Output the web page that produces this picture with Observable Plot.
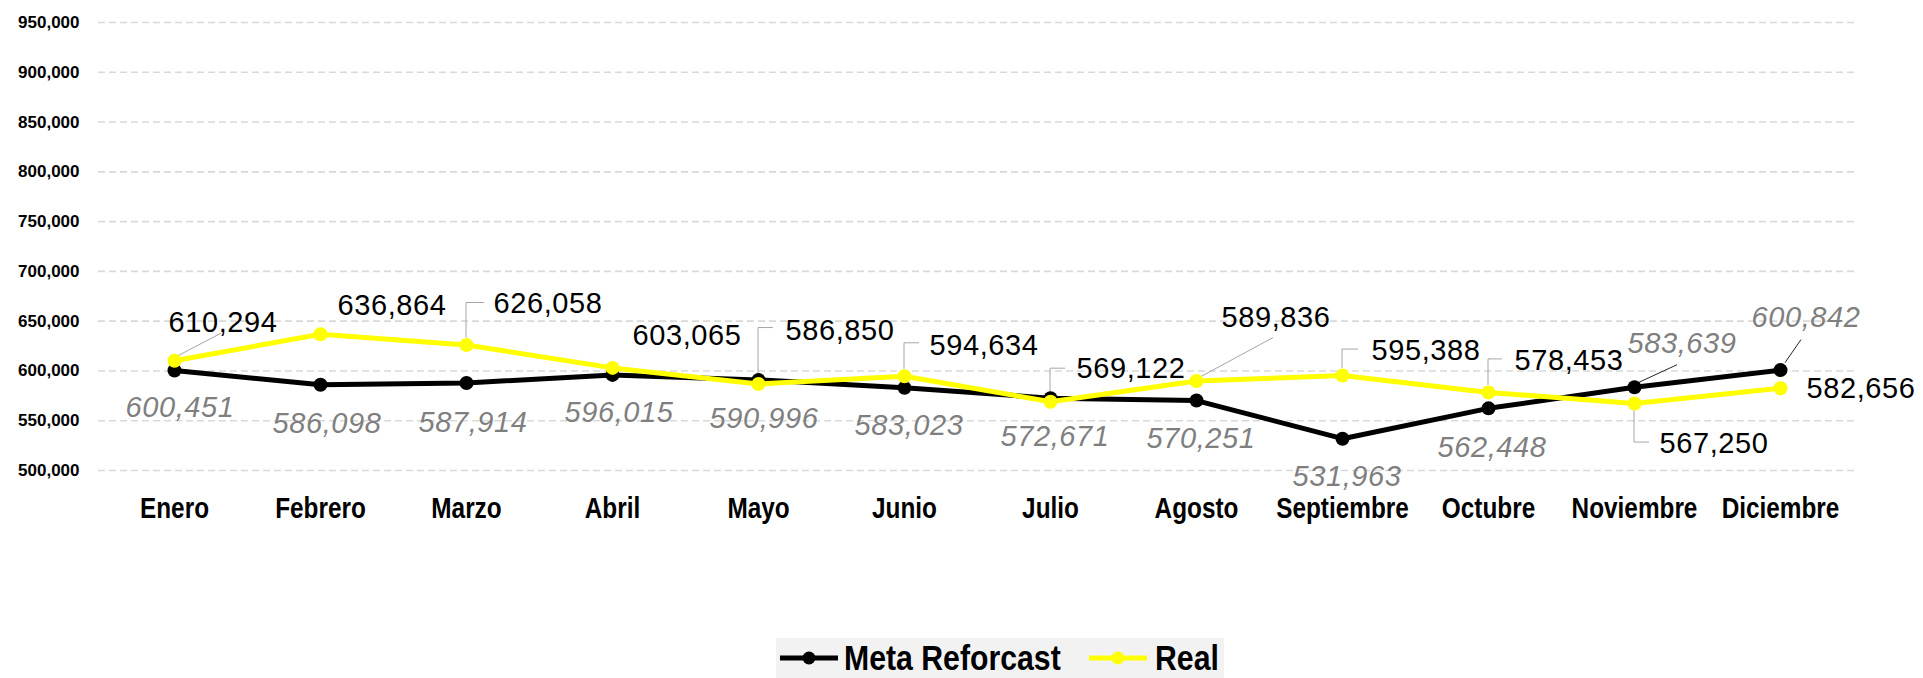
<!DOCTYPE html>
<html><head><meta charset="utf-8">
<script src="https://cdn.jsdelivr.net/npm/d3@7"></script>
<script src="https://cdn.jsdelivr.net/npm/@observablehq/plot@0.6"></script>
<style>
body{margin:0;background:#fff;}
#wrap{position:relative;width:1923px;height:678px;overflow:hidden;background:#fff;}
#legend{position:absolute;left:776px;top:638px;}
</style></head>
<body><div id="wrap"><div id="chart"></div><div id="legend"></div></div>
<script>
// ---- data ----
const months = ["Enero","Febrero","Marzo","Abril","Mayo","Junio","Julio","Agosto","Septiembre","Octubre","Noviembre","Diciembre"];
const metaValues = [600451, 586098, 587914, 596015, 590996, 583023, 572671, 570251, 531963, 562448, 583639, 600842];
const realValues = [610294, 636864, 626058, 603065, 586850, 594634, 569122, 589836, 595388, 578453, 567250, 582656];
const yTicks = [500000, 550000, 600000, 650000, 700000, 750000, 800000, 850000, 900000, 950000];
const seriesNames = ["Meta Reforcast", "Real"];

// ---- label layout (pixel offsets from each point: [dx to label centre, dy to baseline]) ----
const realLabelOffset = [[49,-28],[72,-19],[82,-31.5],[75,-22],[82,-43.5],[80,-21],[81,-23],[80,-54],[84,-15],[81,-22],[80,50],[81,10]];
const metaLabelOffset = [[6,47],[7,49],[7,49.5],[7,48],[6,49],[5,48],[5,48],[5,48],[5,48],[4,49],[48,-34],[26,-43]];
const realLeaders = [[[3,-4],[47,-27]], null, [[0,-7],[0,-42],[18,-42]], null, [[0,-7],[0,-56],[15,-56]], [[0,-7],[0,-33],[15,-33]], [[0,-7],[0,-33],[15,-33]], [[3,-3],[77,-43]], [[0,-7],[0,-26],[16,-26]], [[0,-7],[0,-33],[14,-33]], [[0,7],[0,39],[15,39]], null];
const metaLeaders = [null,null,null,null,null,null,null,null,null,null,[[4,-4],[43,-22]],[[5,-7],[21,-30]]];

const boldFont = "'Liberation Sans',Arial,sans-serif";
const regular = "'Liberation Sans',Arial,sans-serif";
const fmt = d3.format(",");

const metaRows = months.map((m,i)=>({month:m, value:metaValues[i]}));
const realRows = months.map((m,i)=>({month:m, value:realValues[i]}));

function leaderMark(values, leaders, color){
  return (index, scales) => {
    const g = d3.create("svg:g");
    values.forEach((v,i)=>{
      const L = leaders[i]; if(!L) return;
      const px = scales.x(months[i]), py = scales.y(v);
      g.append("polyline")
        .attr("points", L.map(([dx,dy])=>`${px+dx},${py+dy}`).join(" "))
        .attr("fill","none").attr("stroke",color).attr("stroke-width",1);
    });
    return g.node();
  };
}
function labelMark(values, offsets, color, italic){
  return (index, scales) => {
    const g = d3.create("svg:g")
      .attr("font-family", regular).attr("font-size", 29).attr("letter-spacing", 0.6)
      .attr("fill", color).attr("text-anchor","middle");
    if (italic) g.attr("font-style","italic");
    values.forEach((v,i)=>{
      const px = scales.x(months[i]), py = scales.y(v);
      g.append("text").attr("x", px+offsets[i][0]).attr("y", py+offsets[i][1]).text(fmt(v));
    });
    return g.node();
  };
}

const chart = Plot.plot({
  width: 1923, height: 636,
  marginLeft: 98, marginRight: 68, marginTop: 22, marginBottom: 166,
  style: {background:"#fff", overflow:"visible"},
  x: {type:"point", domain: months, padding: 0.5, label: null},
  y: {domain: [500000, 950000], label: null},
  marks: [
    Plot.ruleY(yTicks, {stroke:"#d9d9d9", strokeWidth:1.6, strokeDasharray:"7,4"}),
    Plot.axisY(yTicks, {tickSize:0, tickPadding:19, tickFormat: fmt, fontSize:17, fontWeight:"bold", fontFamily: regular, fill:"#000", label:null}),
    Plot.axisX({tickSize:0, tickPadding:27, fontSize:29, fontWeight:"bold", fontFamily: boldFont, fill:"#000", label:null}),
    leaderMark(realValues, realLeaders, "#a6a6a6"),
    leaderMark(metaValues, metaLeaders, "#262626"),
    Plot.line(metaRows, {x:"month", y:"value", stroke:"#000", strokeWidth:5}),
    Plot.dot(metaRows, {x:"month", y:"value", fill:"#000", r:7}),
    Plot.line(realRows, {x:"month", y:"value", stroke:"#ffff00", strokeWidth:5}),
    Plot.dot(realRows, {x:"month", y:"value", fill:"#ffff00", r:7}),
    labelMark(realValues, realLabelOffset, "#000", false),
    labelMark(metaValues, metaLabelOffset, "#7f7f7f", true)
  ]
});
document.getElementById("chart").append(chart);

// condense the bold month labels (narrow bold look), scaling each around its own anchor
chart.querySelectorAll('g[aria-label="x-axis tick label"] text').forEach(t=>{
  const x = +(t.getAttribute("x") || 0);
  const tr = t.getAttribute("transform") || "";
  t.setAttribute("transform", `${tr} translate(${x},0) scale(0.84,1) translate(${-x},0)`);
});

// ---- legend ----
const lg = d3.select("#legend").append("svg").attr("width",448).attr("height",40);
lg.append("rect").attr("width",448).attr("height",40).attr("fill","#f2f2f2");
const items = [{name:seriesNames[0], color:"#000", x0:4, tx:68},{name:seriesNames[1], color:"#ffff00", x0:313, tx:379}];
items.forEach(it=>{
  lg.append("line").attr("x1",it.x0).attr("x2",it.x0+58).attr("y1",20).attr("y2",20).attr("stroke",it.color).attr("stroke-width",5);
  lg.append("circle").attr("cx",it.x0+29).attr("cy",20).attr("r",6.5).attr("fill",it.color);
  lg.append("text").attr("transform",`translate(${it.tx},32) scale(0.84,1)`).attr("font-family",boldFont).attr("font-weight","bold").attr("font-size",36).attr("fill","#000").text(it.name);
});
</script></body></html>
